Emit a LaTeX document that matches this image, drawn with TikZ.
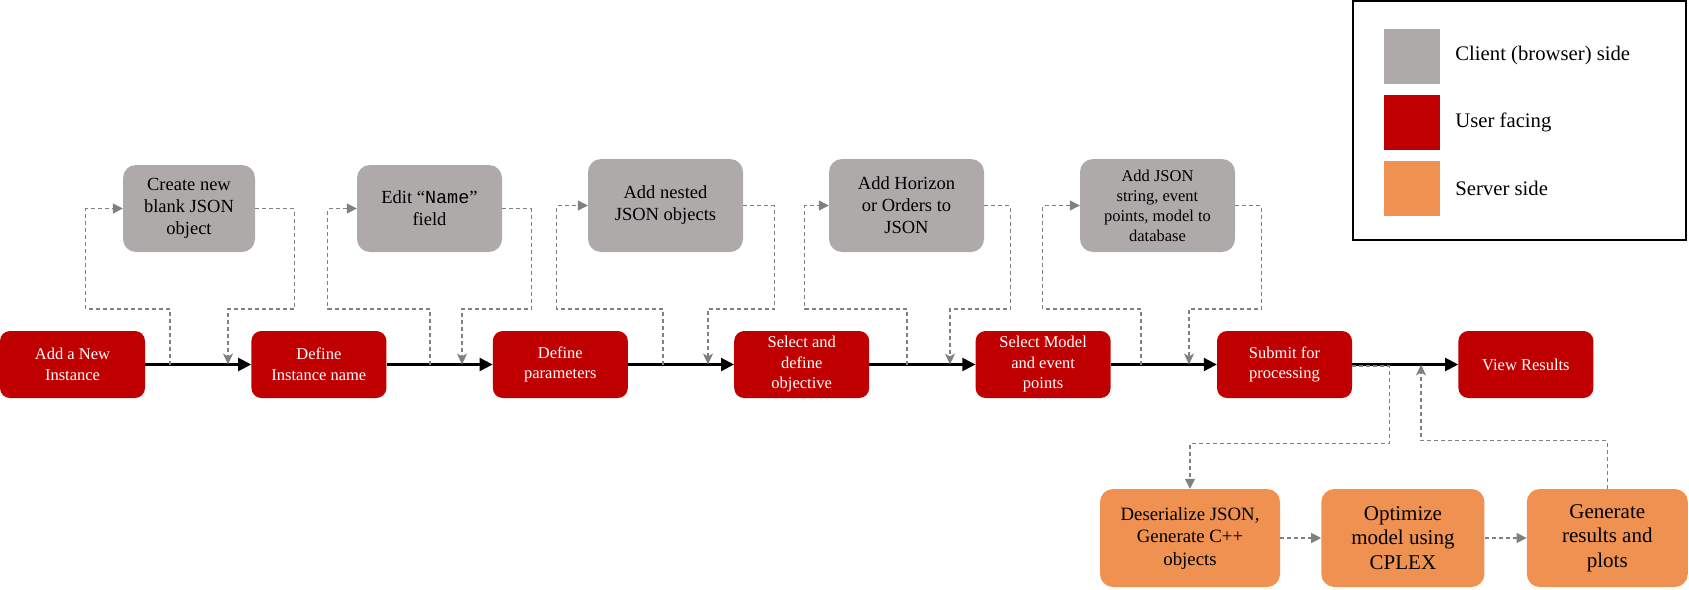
\documentclass[tikz,border=0pt]{standalone}
\usepackage{fontspec}
\setmainfont{Liberation Serif}
\setmonofont{Liberation Mono}
\usetikzlibrary{arrows.meta,positioning}

\definecolor{userred}{RGB}{192,0,0}
\definecolor{clientgray}{RGB}{174,170,170}
\definecolor{serverorange}{RGB}{239,145,80}
\definecolor{dashgray}{RGB}{128,128,128}

\tikzset{
  userbox/.style={fill=userred, text=white, rounded corners=10pt, minimum width=135pt, minimum height=67pt, align=center, inner sep=0pt, font=\fontsize{16.5}{20.5}\selectfont},
  clientbox/.style={fill=clientgray, rounded corners=13pt, minimum width=155pt, minimum height=93pt, align=center, inner sep=0pt, font=\fontsize{18.5}{22}\selectfont},
  serverbox/.style={fill=serverorange, rounded corners=13pt, minimum height=98pt, align=center, inner sep=0pt, font=\fontsize{21}{24.5}\selectfont},
  flow/.style={-{Triangle[length=13pt,width=13pt]}, line width=2.1pt},
  jsonflow/.style={draw=dashgray, dash pattern=on 4pt off 3pt, line width=1.2pt},
  tri/.style={-{Triangle[length=10pt,width=10pt,fill=dashgray]}},
  stl/.style={-{Stealth[length=11pt,width=10pt,inset=3pt,fill=dashgray]}},
  swatch/.style={minimum width=56pt, minimum height=55pt, inner sep=0pt},
  keytext/.style={anchor=west, inner sep=0pt, font=\fontsize{20.7}{24}\selectfont},
}

\begin{document}
\begin{tikzpicture}[x=1pt, y=-1pt]
\useasboundingbox (0,0) rectangle (1689,589);

% user facing steps
\node[userbox, minimum width=145pt] (add) at (72.5,364.5) {Add a New\\Instance};
\node[userbox, right=106pt of add] (name) {Define\\Instance name};
\node[userbox, right=106pt of name] (param) {Define\\parameters};
\node[userbox, right=106pt of param] (objective) {Select and\\define\\objective};
\node[userbox, right=106pt of objective] (model) {Select Model\\and event\\points};
\node[userbox, right=106pt of model] (submit) {Submit for\\processing};
\node[userbox, right=106pt of submit] (view) {View Results};

% client side
\node[clientbox, minimum width=132pt, minimum height=87pt] (blank) at (189,208.5) {Create new\\blank JSON\\object};
\node[clientbox, minimum width=145pt, minimum height=87pt] (edit) at (429.5,208.5) {Edit “\texttt{Name}”\\field};
\node[clientbox] (nested) at (665.5,205.5) {Add nested\\JSON objects};
\node[clientbox] (horizon) at (906.5,205.5) {Add Horizon\\or Orders to\\JSON};
\node[clientbox, font=\fontsize{16.5}{20}\selectfont] (store) at (1157.5,205.5) {Add JSON\\string, event\\points, model to\\database};

% server side
\node[serverbox, minimum width=180pt, font=\fontsize{18.8}{22.5}\selectfont] (deser) at (1190,538) {Deserialize JSON,\\Generate C++\\objects};
\node[serverbox, minimum width=163pt, right=41pt of deser] (optim) {Optimize\\model using\\CPLEX};
\node[serverbox, minimum width=161pt, right=42pt of optim] (plots) {Generate\\results and\\plots};

% main flow
\draw[flow] (add) -- (name);
\draw[flow] (name) -- (param);
\draw[flow] (param) -- (objective);
\draw[flow] (objective) -- (model);
\draw[flow] (model) -- (submit);
\draw[flow] (submit) -- (view);

% JSON round trips
\coordinate (lev) at (0,309);
\coordinate (up1) at (170,364.5);
\coordinate (dn1) at (228,364.5);
\coordinate (up2) at (430,364.5);
\coordinate (dn2) at (462,364.5);
\coordinate (up3) at (663,364.5);
\coordinate (dn3) at (708,364.5);
\coordinate (up4) at (907,364.5);
\coordinate (dn4) at (950,364.5);
\coordinate (up5) at (1141,364.5);
\coordinate (dn5) at (1189,364.5);
\coordinate (back) at (1421,364.5);

\draw[jsonflow, tri] (up1) |- ([xshift=-37pt]blank.west |- lev) |- (blank.west);
\draw[jsonflow, stl] (blank.east) -- ([xshift=39pt]blank.east) |- (dn1 |- lev) -- (dn1);
\draw[jsonflow, tri] (up2) |- ([xshift=-29pt]edit.west |- lev) |- (edit.west);
\draw[jsonflow, stl] (edit.east) -- ([xshift=29pt]edit.east) |- (dn2 |- lev) -- (dn2);
\draw[jsonflow, tri] (up3) |- ([xshift=-31pt]nested.west |- lev) |- (nested.west);
\draw[jsonflow, stl] (nested.east) -- ([xshift=31pt]nested.east) |- (dn3 |- lev) -- (dn3);
\draw[jsonflow, tri] (up4) |- ([xshift=-24pt]horizon.west |- lev) |- (horizon.west);
\draw[jsonflow, stl] (horizon.east) -- ([xshift=26pt]horizon.east) |- (dn4 |- lev) -- (dn4);
\draw[jsonflow, tri] (up5) |- ([xshift=-37pt]store.west |- lev) |- (store.west);
\draw[jsonflow, stl] (store.east) -- ([xshift=26pt]store.east) |- (dn5 |- lev) -- (dn5);

% server round trip
\draw[jsonflow, tri] ([yshift=-1.5pt]submit.east) -- ++(37,0) |- ([yshift=45pt]deser.north) -- (deser.north);
\draw[jsonflow, tri] (deser) -- (optim);
\draw[jsonflow, tri] (optim) -- (plots);
\draw[jsonflow, stl] (plots.north) -- ++(0,-48) -| (back);

% legend
\draw[line width=2pt] (1353,1) rectangle (1686,240);
\node[swatch, fill=clientgray] (kclient) at (1412,56) {};
\node[swatch, fill=userred] (kuser) at (1412,122.5) {};
\node[swatch, fill=serverorange] (kserver) at (1412,188.5) {};
\node[keytext, right=15pt of kclient] (tclient) {Client (browser) side};
\node[keytext, right=15pt of kuser] (tuser) {User facing};
\node[keytext, right=15pt of kserver] (tserver) {Server side};
\end{tikzpicture}
\end{document}
